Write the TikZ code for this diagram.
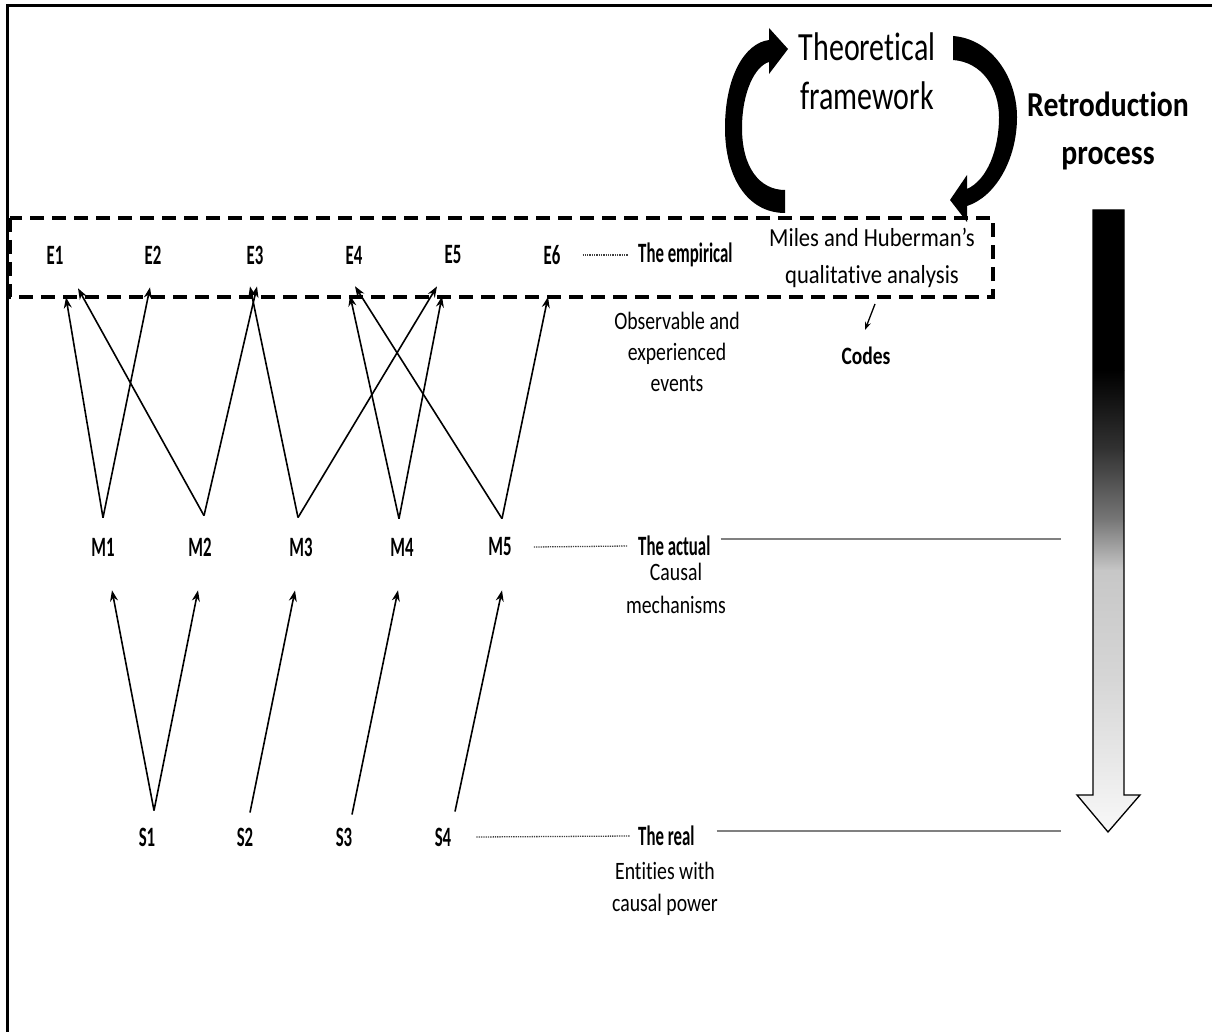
\documentclass[tikz,border=0pt]{standalone}
\usepackage{fontspec}
\setmainfont{Carlito}[Ligatures=NoCommon]
\newfontfamily\fcond[FakeStretch=0.6,Ligatures=NoCommon]{Carlito}
\newfontfamily\fcodes[FakeStretch=0.78,Ligatures=NoCommon]{Carlito}
\newfontfamily\fmid[FakeStretch=0.79,Ligatures=NoCommon]{Carlito}
\newfontfamily\fwide[FakeStretch=0.87,Ligatures=NoCommon]{Carlito}
\newfontfamily\ftheo[FakeStretch=0.75,Ligatures=NoCommon]{Carlito}
\newfontfamily\fretro[FakeStretch=0.85,Ligatures=NoCommon]{Carlito}
\usetikzlibrary{arrows.meta}

\tikzset{
  lbl/.style={font=\fcond\bfseries\fontsize{28}{32}\selectfont, inner sep=0pt},
  note/.style={font=\fmid\fontsize{25}{31}\selectfont, align=center, inner sep=0pt},
  conn/.style={line width=1.6pt, -{Stealth[length=11pt,width=8pt]}},
  leader/.style={line width=1.3pt, densely dotted, black!75},
  rulerline/.style={line width=1.1pt, black!50},
}

\begin{document}
\begin{tikzpicture}[x=1pt,y=-1pt]
\useasboundingbox (0,0) rectangle (1212,1032);

% outer frame (top and left edges)
\draw[line width=3pt] (7,1040) -- (7,6) -- (1220,6);

% dashed box around the empirical level
\draw[line width=4.5pt, dash pattern=on 14pt off 8pt] (10,218) rectangle (993,297);

% level labels
\node[lbl] (E1) at (55,255) {E1};
\node[lbl] (E2) at (153,255) {E2};
\node[lbl] (E3) at (255,255) {E3};
\node[lbl] (E4) at (354,255) {E4};
\node[lbl] (E5) at (453,255) {E5};
\node[lbl] (E6) at (552,255) {E6};

\node[lbl] (M1) at (103,547) {M1};
\node[lbl] (M2) at (200,547) {M2};
\node[lbl] (M3) at (301,547) {M3};
\node[lbl] (M4) at (402,547) {M4};
\node[lbl] (M5) at (500,547) {M5};

\node[lbl] (S1) at (147,837) {S1};
\node[lbl] (S2) at (245,837) {S2};
\node[lbl] (S3) at (344,837) {S3};
\node[lbl] (S4) at (443,837) {S4};

\node[lbl, anchor=west] (emp) at (638,255) {The empirical};
\node[lbl, anchor=west] (act) at (638,546) {The actual};
\node[lbl, anchor=west] (real) at (638,836) {The real};

\node[note] (obs) at (677,352) {Observable and\\experienced\\events};
\node[note, font=\fmid\fontsize{25}{33}\selectfont] (mech) at (676,588) {Causal\\mechanisms};
\node[note, font=\fmid\fontsize{25}{32}\selectfont] (ent) at (665,889) {Entities with\\causal power};

% leaders
\draw[leader] ([xshift=22pt]E6.east) -- ([xshift=-10pt]emp.west);
\draw[leader] ([xshift=22pt]M5.east) -- ([xshift=-10pt]act.west);
\draw[leader] ([xshift=25pt]S4.east) -- ([xshift=-8pt]real.west);
\coordinate (actend) at (1061,539);
\coordinate (realend) at (1061,831);
\draw[rulerline] ([xshift=10pt,yshift=7pt]act.east) -- (actend);
\draw[rulerline] ([xshift=22pt,yshift=5pt]real.east) -- (realend);

% mechanisms -> events
\draw[conn] ([xshift=0pt,yshift=20pt]M1.north) -- ([xshift=11pt,yshift=-33pt]E1.south);
\draw[conn] ([xshift=0pt,yshift=20pt]M1.north) -- ([xshift=-3pt,yshift=-23pt]E2.south);
\draw[conn] ([xshift=4pt,yshift=22pt]M2.north) -- ([xshift=23pt,yshift=-24pt]E1.south);
\draw[conn] ([xshift=4pt,yshift=22pt]M2.north) -- ([xshift=2pt,yshift=-22pt]E3.south);
\draw[conn] ([xshift=-3pt,yshift=20pt]M3.north) -- ([xshift=-5pt,yshift=-22pt]E3.south);
\draw[conn] ([xshift=-3pt,yshift=20pt]M3.north) -- ([xshift=-16pt,yshift=-22pt]E5.south);
\draw[conn] ([xshift=-3pt,yshift=19pt]M4.north) -- ([xshift=-4pt,yshift=-31pt]E4.south);
\draw[conn] ([xshift=-3pt,yshift=19pt]M4.north) -- ([xshift=-11pt,yshift=-32pt]E5.south);
\draw[conn] ([xshift=2pt,yshift=19pt]M5.north) -- ([xshift=1pt,yshift=-22pt]E4.south);
\draw[conn] ([xshift=2pt,yshift=19pt]M5.north) -- ([xshift=-4pt,yshift=-32pt]E6.south);

% structures -> mechanisms
\draw[conn] ([xshift=7pt,yshift=17pt]S1.north) -- ([xshift=9pt,yshift=-34pt]M1.south);
\draw[conn] ([xshift=7pt,yshift=17pt]S1.north) -- ([xshift=-2pt,yshift=-34pt]M2.south);
\draw[conn] ([xshift=5pt,yshift=15pt]S2.north) -- ([xshift=-6pt,yshift=-34pt]M3.south);
\draw[conn] ([xshift=8pt,yshift=13pt]S3.north) -- ([xshift=-4pt,yshift=-34pt]M4.south);
\draw[conn] ([xshift=12pt,yshift=16pt]S4.north) -- ([xshift=2pt,yshift=-34pt]M5.south);

% theory and analysis
\node[font=\ftheo\fontsize{40}{49}\selectfont, align=center, inner sep=0pt] (theo) at (867,71) {Theoretical\\framework};
\node[font=\fwide\fontsize{26}{37}\selectfont, align=center, inner sep=0pt] (miles) at (872,258) {Miles and Huberman’s\\qualitative analysis};
\node[font=\fcodes\bfseries\fontsize{25}{29}\selectfont, inner sep=0pt] (codes) at (866,356) {Codes};
\draw[line width=1.3pt, -{Stealth[length=8pt,width=6pt]}] ([xshift=3pt,yshift=-16pt]miles.south) -- ([xshift=-1pt,yshift=17pt]codes.north);

\node[font=\fretro\bfseries\fontsize{35}{48}\selectfont, align=center, inner sep=0pt] (retro) at (1108,131) {Retroduction\\process};

% curved block arrows linking the analysis and the theoretical framework
\fill (785,213) .. controls (748,213) and (725,178) .. (725,128)
      .. controls (725,76) and (745,43) .. (769,40)
      -- (769,28) -- (788,49) -- (769,74) -- (769,62)
      .. controls (755,66) and (742,92) .. (742,128)
      .. controls (742,168) and (760,190) .. (785,190) -- cycle;
\fill (953,36) .. controls (992,39) and (1017,78) .. (1017,117)
      .. controls (1017,160) and (995,197) .. (967,206)
      -- (967,222) -- (950,200) -- (967,175) -- (967,189)
      .. controls (987,180) and (999,150) .. (999,117)
      .. controls (999,88) and (982,62) .. (953,60) -- cycle;

% retroduction arrow with vertical grey ramp
\begin{scope}
  \clip (1093,210) -- (1124,210) -- (1124,795) -- (1140,795) -- (1108,832)
        -- (1077,795) -- (1093,795) -- cycle;
  \fill[black] (1070,200) rectangle (1145,371);
  \shade[top color=black, bottom color=black!80] (1070,370) rectangle (1145,451);
  \shade[top color=black!80, bottom color=black!53] (1070,450) rectangle (1145,521);
  \shade[top color=black!53, bottom color=black!22] (1070,520) rectangle (1145,571);
  \shade[top color=black!22, bottom color=black!16] (1070,570) rectangle (1145,681);
  \shade[top color=black!16, bottom color=black!2] (1070,680) rectangle (1145,840);
\end{scope}
\draw[line width=1.3pt, line join=miter] (1093,210) -- (1124,210) -- (1124,795) -- (1140,795)
  -- (1108,832) -- (1077,795) -- (1093,795) -- cycle;
\end{tikzpicture}
\end{document}
